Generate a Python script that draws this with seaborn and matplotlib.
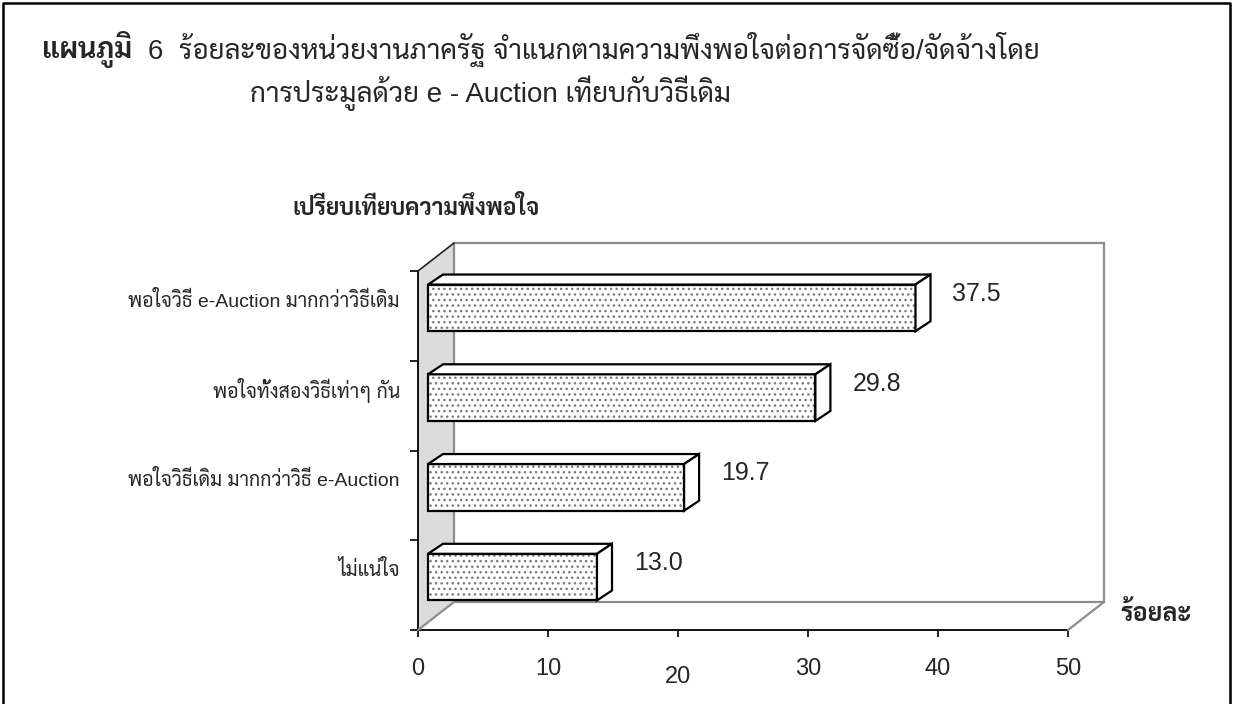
import matplotlib
matplotlib.use('Agg')
import matplotlib.pyplot as plt
import seaborn as sns
import pandas as pd
from matplotlib.patches import Polygon, Rectangle
from matplotlib.lines import Line2D
from matplotlib.transforms import ScaledTranslation

# data
categories = ['พอใจวิธี e-Auction มากกว่าวิธีเดิม',
              'พอใจทั้งสองวิธีเท่าๆ กัน',
              'พอใจวิธีเดิม มากกว่าวิธี e-Auction',
              'ไม่แน่ใจ']
values = [37.5, 29.8, 19.7, 13.0]
value_labels = ['37.5', '29.8', '19.7', '13.0']
xticks = [0, 10, 20, 30, 40, 50]
title_bold = 'แผนภูมิ'
title_rest = '6  ร้อยละของหน่วยงานภาครัฐ จำแนกตามความพึงพอใจต่อการจัดซื้อ/จัดจ้างโดย'
title_line2 = 'การประมูลด้วย e - Auction เทียบกับวิธีเดิม'
chart_title = 'เปรียบเทียบความพึงพอใจ'
x_label = 'ร้อยละ'

sns.set_style('white')
# latin from an Arial-like face, Thai falls back to Sarabun
plt.rcParams['font.family'] = ['Liberation Sans', 'Sarabun', 'DejaVu Sans']

W, H = 1233, 704
fig = plt.figure(figsize=(W / 100, H / 100), dpi=100)


def rect(l, t, r, b):
    return [l / W, 1 - b / H, (r - l) / W, (b - t) / H]


PX = 13.0                      # pixels per percent
n = len(categories)
CAT = (630 - 271) / n          # pixels per category
x_max = (1110 - 418) / PX
dx, dy = 36 / PX, -28 / CAT    # depth of the 3d box
bdx, bdy = 15 / PX, -10 / CAT  # depth of the bars

# main axes = front plane of the box
ax = fig.add_axes(rect(418, 271, 1110, 630))
ax.set_xlim(0, x_max)
ax.set_ylim(n - 0.5, -0.5)
top, bot = -0.5, n - 0.5

ax.add_patch(Polygon([(0, bot), (0, top), (dx, top + dy), (dx, bot + dy)],
                     facecolor='#dcdcdc', edgecolor='none', clip_on=False, zorder=1))
ax.add_patch(Polygon([(dx, top + dy), (50 + dx, top + dy), (50 + dx, bot + dy), (dx, bot + dy)],
                     facecolor='none', edgecolor='#8c8c8c', lw=1.6, clip_on=False, zorder=2))
ax.plot([0, dx], [top, top + dy], color='#222222', lw=1.2, clip_on=False, zorder=3)
ax.plot([0, dx], [bot, bot + dy], color='#8c8c8c', lw=1.6, clip_on=False, zorder=3)
ax.plot([50, 50 + dx], [bot, bot + dy], color='#8c8c8c', lw=1.6, clip_on=False, zorder=3)

for s in ['top', 'right']:
    ax.spines[s].set_visible(False)
for s in ['left', 'bottom']:
    ax.spines[s].set_color('black')
    ax.spines[s].set_linewidth(1.3)
ax.spines['bottom'].set_bounds(0, 50)
ax.set_facecolor('none')

ax.set_xticks(xticks)
ax.set_xticklabels([str(t) for t in xticks])
ax.set_yticks([i - 0.5 for i in range(n + 1)])
ax.set_yticklabels([])
ax.tick_params(axis='x', length=5, width=1.2, color='black', labelsize=17, pad=15, direction='out', bottom=True)
ax.tick_params(axis='y', length=6, width=1.2, color='black', direction='out', left=True)
lbl = ax.get_xticklabels()[2]
lbl.set_transform(lbl.get_transform() + ScaledTranslation(0, -8 / 100, fig.dpi_scale_trans))

# bar axes = plane of the bar fronts
bx = fig.add_axes(rect(428, 263, 1120, 622))
df = pd.DataFrame({'category': categories, 'value': values})
sns.barplot(data=df, x='value', y='category', order=categories, orient='h',
            width=0.52, color='white', saturation=1, ax=bx)
bx.set_xlim(0, x_max)
bx.set_ylim(n - 0.5, -0.5)
bx.axis('off')

for p, txt in zip(bx.patches, value_labels):
    w, y0, h = p.get_width(), p.get_y(), p.get_height()
    p.set_hatch('...')
    p.set_edgecolor('#7a7a7a')
    p.set_linewidth(0)
    bx.add_patch(Rectangle((0, y0), w, h, fill=False, edgecolor='black', lw=1.6, clip_on=False))
    bx.add_patch(Polygon([(0, y0), (w, y0), (w + bdx, y0 + bdy), (bdx, y0 + bdy)],
                         facecolor='white', edgecolor='black', lw=1.6, clip_on=False))
    bx.add_patch(Polygon([(w, y0), (w + bdx, y0 + bdy), (w + bdx, y0 + h + bdy), (w, y0 + h)],
                         facecolor='white', edgecolor='black', lw=1.6, clip_on=False))
    bx.text(w + 37 / PX, y0 + h / 2 - 14 / CAT, txt, ha='left', va='center', fontsize=18)

for i, cat in enumerate(categories):
    bx.text(-28 / PX, i - 0.08, cat, ha='right', va='center', fontsize=14)

# titles
renderer = fig.canvas.get_renderer()
t1 = fig.text(42 / W, 1 - 49 / H, title_bold, ha='left', va='center', fontsize=20.5, fontweight='bold')
x_after = t1.get_window_extent(renderer).x1 + 16
fig.text(x_after / W, 1 - 49 / H, title_rest, ha='left', va='center', fontsize=20)
fig.text(250 / W, 1 - 93 / H, title_line2, ha='left', va='center', fontsize=20)
fig.text(292 / W, 1 - 208 / H, chart_title, ha='left', va='center', fontsize=16.5, fontweight='bold')
fig.text(1120 / W, 1 - 614 / H, x_label, ha='left', va='center', fontsize=18, fontweight='bold')

fig.add_artist(Line2D([3 / W, 3 / W, 1230 / W, 1230 / W], [0, 1 - 3 / H, 1 - 3 / H, 0],
                      color='black', lw=1.8, transform=fig.transFigure))

fig.savefig('out.png', dpi=100)
